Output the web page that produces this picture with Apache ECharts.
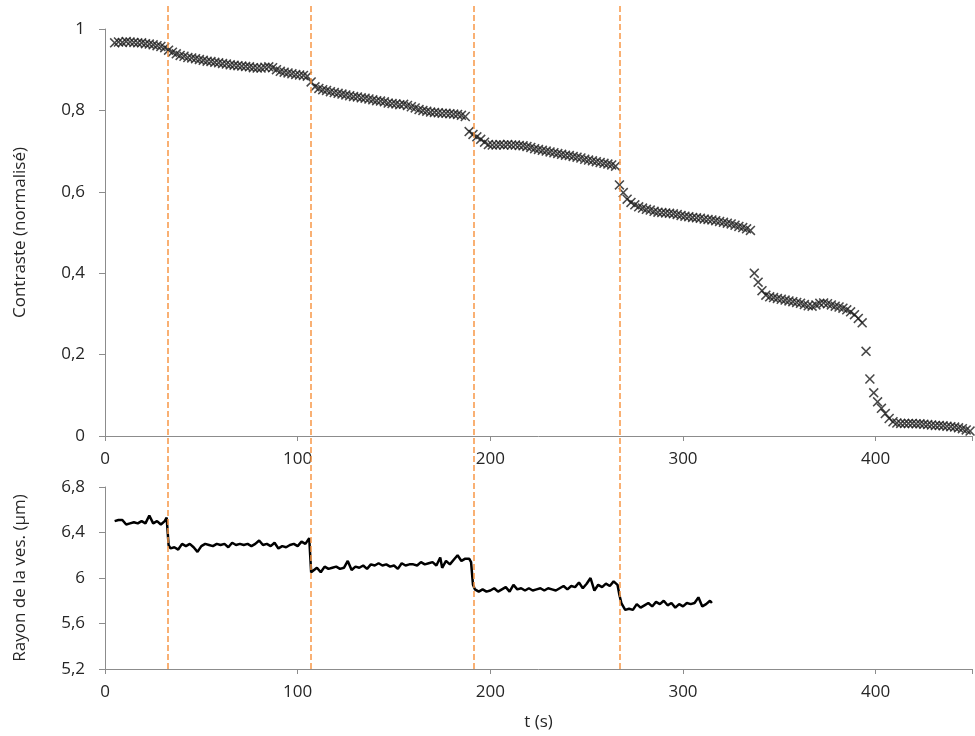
<!DOCTYPE html>
<html>
<head>
<meta charset="utf-8">
<script src="https://cdn.jsdelivr.net/npm/echarts@6/dist/echarts.min.js"></script>
<style>
html,body{margin:0;padding:0;background:#fff;}
#c{width:975px;height:736px;}
</style>
</head>
<body>
<div id="c"></div>
<script>
// ---- Data ----
const T_TOP = [
5,7,9,11,13,15,17,19,21,23,
25,27,29,31,33,35,37,39,41,43,
45,47,49,51,53,55,57,59,61,63,
65,67,69,71,73,75,77,79,81,83,
85,87,89,91,93,95,97,99,101,103,
105,107,109,111,113,115,117,119,121,123,
125,127,129,131,133,135,137,139,141,143,
145,147,149,151,153,155,157,159,161,163,
165,167,169,171,173,175,177,179,181,183,
185,187,189,191,193,195,197,199,201,203,
205,207,209,211,213,215,217,219,221,223,
225,227,229,231,233,235,237,239,241,243,
245,247,249,251,253,255,257,259,261,263,
265,267,269,271,273,275,277,279,281,283,
285,287,289,291,293,295,297,299,301,303,
305,307,309,311,313,315,317,319,321,323,
325,327,329,331,333,335,337,339,341,343,
345,347,349,351,353,355,357,359,361,363,
365,367,369,371,373,375,377,379,381,383,
385,387,389,391,393,395,397,399,401,403,
405,407,409,411,413,415,417,419,421,423,
425,427,429,431,433,435,437,439,441,443,
445,447,449];
const CONTRASTE = [
.966,.968,.967,.969,.968,.967,.966,.966,.964,.963,
.961,.959,.957,.954,.948,.943,.939,.935,.933,.930,
.929,.927,.925,.923,.921,.920,.918,.917,.915,.914,
.912,.911,.910,.909,.908,.907,.905,.904,.904,.906,
.907,.905,.900,.896,.894,.892,.890,.888,.887,.886,
.884,.870,.858,.854,.851,.849,.846,.844,.842,.840,
.838,.836,.834,.833,.831,.830,.828,.826,.824,.823,
.821,.818,.817,.816,.814,.815,.812,.809,.806,.802,
.800,.798,.796,.795,.794,.793,.793,.792,.791,.790,
.788,.785,.748,.741,.735,.729,.722,.716,.715,.715,
.716,.715,.716,.715,.715,.714,.713,.711,.709,.706,
.704,.702,.700,.698,.696,.694,.692,.690,.689,.687,
.685,.683,.680,.678,.676,.674,.672,.670,.668,.666,
.663,.617,.598,.582,.574,.568,.563,.560,.557,.555,
.552,.550,.549,.548,.547,.546,.544,.542,.540,.539,
.537,.536,.535,.533,.532,.531,.529,.527,.525,.523,
.521,.518,.515,.512,.509,.505,.400,.378,.357,.346,
.342,.340,.338,.336,.334,.332,.330,.328,.326,.323,
.320,.319,.322,.326,.327,.325,.322,.319,.317,.314,
.310,.305,.298,.289,.278,.208,.140,.106,.084,.068,
.055,.043,.035,.032,.031,.031,.031,.031,.030,.030,
.029,.028,.027,.026,.026,.025,.024,.023,.022,.020,
.018,.015,.012];

const T_RAYON = [
5,7,9,11,13,15,17,19,21,23,
25,27,29,31,32,33,34,36,38,40,
42,44,46,48,50,52,54,56,58,60,
62,64,66,68,70,72,74,76,78,80,
82,84,86,88,90,92,94,96,98,100,
102,104,106,107,108,110,112,114,116,118,
120,122,124,126,128,130,132,134,136,138,
140,142,144,146,148,150,152,154,156,158,
160,162,164,166,168,170,172,174,175,177,
179,181,183,185,187,189,190,191,192,194,
196,198,200,202,204,206,208,210,212,214,
216,218,220,222,224,226,228,230,232,234,
236,238,240,242,244,246,248,250,252,254,
256,258,260,262,264,266,267,268,270,272,
274,276,278,280,282,284,286,288,290,292,
294,296,298,300,302,304,306,308,310,312,
314,315];
const RAYON = [
6.50,6.51,6.51,6.47,6.48,6.49,6.48,6.50,6.48,6.55,
6.48,6.50,6.47,6.50,6.53,6.29,6.26,6.27,6.25,6.30,
6.28,6.30,6.27,6.23,6.28,6.30,6.29,6.28,6.30,6.29,
6.30,6.27,6.31,6.29,6.30,6.29,6.30,6.28,6.30,6.33,
6.29,6.30,6.28,6.31,6.26,6.28,6.27,6.29,6.30,6.28,
6.32,6.30,6.35,6.05,6.06,6.09,6.05,6.10,6.08,6.09,
6.10,6.08,6.09,6.15,6.07,6.10,6.09,6.11,6.08,6.12,
6.11,6.13,6.11,6.12,6.10,6.11,6.08,6.13,6.11,6.12,
6.12,6.11,6.14,6.12,6.13,6.14,6.11,6.18,6.09,6.15,
6.12,6.16,6.20,6.15,6.17,6.17,6.14,5.94,5.90,5.88,
5.90,5.88,5.89,5.91,5.88,5.90,5.92,5.88,5.94,5.90,
5.91,5.89,5.91,5.89,5.90,5.91,5.89,5.91,5.90,5.89,
5.91,5.93,5.90,5.93,5.92,5.96,5.91,5.95,6.00,5.89,
5.94,5.92,5.95,5.93,5.97,5.94,5.85,5.78,5.72,5.73,
5.72,5.77,5.74,5.76,5.78,5.75,5.79,5.77,5.80,5.76,
5.78,5.74,5.77,5.75,5.78,5.77,5.78,5.83,5.75,5.77,
5.80,5.78];

const EVENTS = [32.5, 106.5, 190.5, 266.5];

const X_TICKS = [0, 100, 200, 300, 400];
const TOP_Y = {min: 0, max: 1, interval: 0.2};
const BOT_Y = {min: 5.2, max: 6.8, interval: 0.4};

// ---- Chart ----
const FONT = 'Open Sans';
const TXT = '#262626';
const AX = '#8c8c8c';
const fmt = v => String(Math.round(v * 10) / 10).replace('.', ',');

const chart = echarts.init(document.getElementById('c'), null, {renderer: 'canvas'});

const crossPath = 'path://M0,1.1L1.1,0L5,3.9L8.9,0L10,1.1L6.1,5L10,8.9L8.9,10L5,6.1L1.1,10L0,8.9L3.9,5Z';

function xAx(gridIndex, show) {
  return {
    type: 'value', gridIndex, min: 0, max: 450, interval: 100,
    show: show,
    axisLine: {show: true, lineStyle: {color: AX, width: 1}},
    axisTick: {show: true, length: 5, lineStyle: {color: AX}},
    splitLine: {show: false},
    axisLabel: {
      show: true, margin: 15, color: TXT, fontFamily: FONT, fontSize: 17,
      formatter: v => (X_TICKS.includes(v) ? String(v) : '')
    }
  };
}

const option = {
  animation: false,
  backgroundColor: '#fff',
  textStyle: {fontFamily: FONT},
  grid: [
    {left: 105, right: 0, top: 29, height: 407},
    {left: 105, right: 0, top: 487, height: 182},
    {left: 105, right: 0, top: 6, bottom: 67}
  ],
  xAxis: [
    xAx(0, true),
    Object.assign(xAx(1, true), {
      name: 't (s)', nameLocation: 'middle', nameGap: 45,
      nameTextStyle: {color: TXT, fontFamily: FONT, fontSize: 17}
    }),
    xAx(2, false)
  ],
  yAxis: [
    {
      type: 'value', gridIndex: 0, min: TOP_Y.min, max: TOP_Y.max, interval: TOP_Y.interval,
      name: 'Contraste (normalisé)', nameLocation: 'middle', nameGap: 76,
      nameTextStyle: {color: TXT, fontFamily: FONT, fontSize: 17},
      axisLine: {show: true, lineStyle: {color: AX}},
      axisTick: {show: true, length: 6, lineStyle: {color: AX}},
      splitLine: {show: false},
      axisLabel: {margin: 20, color: TXT, fontFamily: FONT, fontSize: 17, formatter: fmt}
    },
    {
      type: 'value', gridIndex: 1, min: BOT_Y.min, max: BOT_Y.max, interval: BOT_Y.interval,
      name: 'Rayon de la ves. (µm)', nameLocation: 'middle', nameGap: 76,
      nameTextStyle: {color: TXT, fontFamily: FONT, fontSize: 17},
      axisLine: {show: true, lineStyle: {color: AX}},
      axisTick: {show: true, length: 6, lineStyle: {color: AX}},
      splitLine: {show: false},
      axisLabel: {margin: 20, color: TXT, fontFamily: FONT, fontSize: 17, formatter: fmt}
    },
    {type: 'value', gridIndex: 2, min: 0, max: 1, show: false}
  ],
  series: [
    {
      type: 'scatter', xAxisIndex: 0, yAxisIndex: 0,
      symbol: crossPath, symbolSize: 10,
      itemStyle: {color: '#1a1a1a', opacity: 0.8},
      data: T_TOP.map((t, i) => [t, CONTRASTE[i]]),
      z: 2
    },
    {
      type: 'line', xAxisIndex: 1, yAxisIndex: 1,
      symbol: 'none', lineStyle: {color: '#000', width: 2.5},
      data: T_RAYON.map((t, i) => [t, RAYON[i]]),
      z: 2
    },
    {
      type: 'line', xAxisIndex: 2, yAxisIndex: 2,
      symbol: 'none', lineStyle: {opacity: 0},
      data: EVENTS.map(t => [t, 0]),
      silent: true, z: 5,
      markLine: {
        silent: true, symbol: ['none', 'none'], label: {show: false},
        lineStyle: {color: '#f79646', width: 1.5, type: [6, 3]},
        data: EVENTS.map(t => ({xAxis: t}))
      }
    }
  ]
};
chart.setOption(option);
</script>
</body>
</html>
